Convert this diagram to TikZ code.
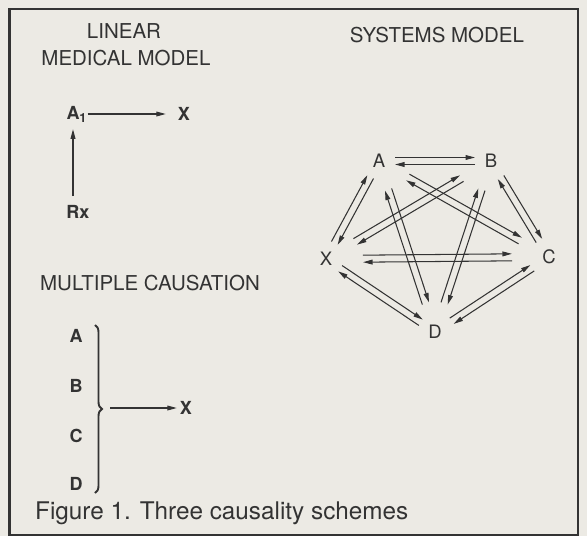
\documentclass[tikz,border=0pt]{standalone}
\usepackage{fontspec}
\setmainfont{TeX Gyre Heros}
\usepackage{xcolor}
\definecolor{inkFig}{HTML}{333333}
\definecolor{paperFig}{HTML}{ECEAE4}
\usepackage{tikz}
\usetikzlibrary{arrows.meta,calc,decorations.pathreplacing}
% two opposite arrows between two nodes, each offset to its own left
\newcommand{\duplex}[3]{%
 \draw[arr,shorten <=#3,shorten >=#3] ($(#1)!3.5pt!90:(#2)$)--($(#2)!3.5pt!-90:(#1)$);
 \draw[arr,shorten <=#3,shorten >=#3] ($(#2)!3.5pt!90:(#1)$)--($(#1)!3.5pt!-90:(#2)$);}

\begin{document}
\begin{tikzpicture}[x=1pt,y=-1pt,
 title/.style={text=inkFig,font=\fontsize{20.5}{24}\selectfont,inner sep=0pt},
 term/.style={text=inkFig,font=\bfseries\fontsize{18}{22}\selectfont,inner sep=3pt},
 sysTerm/.style={text=inkFig,font=\fontsize{18.5}{22}\selectfont,inner sep=2pt},
 arr/.style={-{Triangle[length=9.5pt,width=4.8pt]},line width=1.05pt,draw=inkFig}]
 \useasboundingbox[fill=paperFig] (0,0) rectangle (587,536);
 \draw[inkFig,line width=2pt] (9,9) rectangle (578,534.5);
 \draw[inkFig,line width=3.5pt] (9.5,8) -- (9.5,535.5);
 % linear medical model
 \node[title] (linTitle) at (124,31) {LINEAR};
 \node[title] (linTitle2) at (126,58) {MEDICAL MODEL};
 \node[term] (linA) at (73,114) {A\rlap{\textsubscript{1}}};
 \node[term] (linX) at (184,114) {X};
 \node[term] (linRx) at (78,212) {Rx};
 \draw[arr,shorten <=5pt,shorten >=9pt] (linA) -- (linX);
 \draw[arr,shorten <=6pt,shorten >=4pt] (linRx.north -| linA) -- (linA.south);
 % multiple causation
 \node[title] (multTitle) at (150,283) {MULTIPLE CAUSATION};
 \node[term] (mA) at (76,336) {A};
 \node[term] (mB) at (76,385.5) {B};
 \node[term] (mC) at (76,436) {C};
 \node[term] (mD) at (76,484) {D};
 \coordinate (braceTop) at (95,325);
 \coordinate (braceBot) at (95,493);
 \coordinate (braceTip) at (110,408);
 \draw[inkFig,line width=1.9pt,decorate,decoration={brace,amplitude=7pt}] (braceTop) -- (braceBot);
 \node[term] (mX) at (186,408) {X};
 \draw[arr] (braceTip) -- (mX);
 % systems model
 \node[title] (sysTitle) at (437,35) {SYSTEMS MODEL};
 \node[sysTerm] (A) at (379,161) {A};
 \node[sysTerm] (B) at (491,161) {B};
 \node[sysTerm] (X) at (326,259) {X};
 \node[sysTerm] (C) at (549,257) {C};
 \node[sysTerm] (D) at (435,332) {D};
 \duplex{A}{B}{16pt}
 \duplex{B}{C}{19pt}
 \duplex{C}{D}{20pt}
 \duplex{D}{X}{17pt}
 \duplex{X}{A}{18pt}
 \duplex{A}{C}{33pt}
 \duplex{A}{D}{30pt}
 \duplex{B}{X}{34pt}
 \duplex{B}{D}{30pt}
 \duplex{X}{C}{37pt}
 \node[text=inkFig,font=\fontsize{24.3}{28}\selectfont,anchor=base west,inner sep=0pt] (caption) at (35,519) {Figure 1. Three causality schemes};
\end{tikzpicture}
\end{document}
